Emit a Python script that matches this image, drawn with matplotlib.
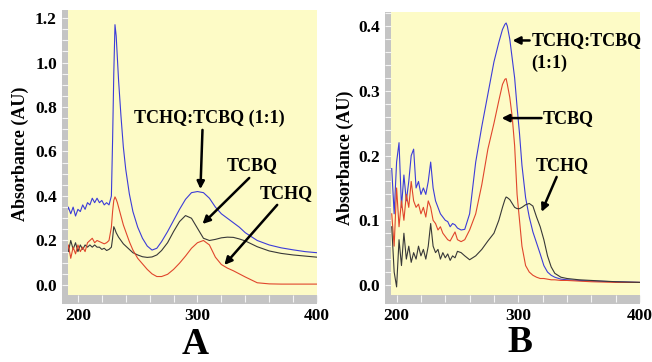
import matplotlib
matplotlib.use("Agg")
import matplotlib.pyplot as plt
from matplotlib.patches import Rectangle
from matplotlib.ticker import MultipleLocator

# ---------------- Panel A data ----------------
wl_a = [190, 192, 194, 196, 198, 200, 202, 204, 206, 208, 210, 212, 214, 216, 218,
        220, 222, 224, 226, 228, 229, 230, 231, 232, 233, 234, 236, 238, 240, 243,
        246, 250, 254, 258, 262, 266, 270, 275, 280, 285, 290, 295, 300, 305, 310,
        315, 320, 325, 330, 335, 340, 350, 360, 370, 380, 390, 400]
mix_a = [0.31, 0.35, 0.32, 0.35, 0.31, 0.34, 0.33, 0.36, 0.34, 0.37, 0.36, 0.39, 0.37, 0.39, 0.37,
         0.38, 0.36, 0.37, 0.36, 0.40, 0.65, 0.95, 1.17, 1.12, 1.02, 0.92, 0.76, 0.62, 0.52, 0.41,
         0.33, 0.26, 0.21, 0.175, 0.157, 0.165, 0.195, 0.24, 0.29, 0.34, 0.385, 0.415, 0.42, 0.415, 0.39,
         0.35, 0.32, 0.30, 0.28, 0.26, 0.235, 0.20, 0.18, 0.167, 0.158, 0.15, 0.145]
tcbq_a = [0.22, 0.15, 0.20, 0.16, 0.19, 0.15, 0.18, 0.16, 0.18, 0.17, 0.18, 0.17, 0.18, 0.17, 0.17,
          0.16, 0.165, 0.155, 0.16, 0.17, 0.21, 0.262, 0.25, 0.235, 0.225, 0.215, 0.20, 0.185, 0.175, 0.16,
          0.145, 0.135, 0.127, 0.124, 0.126, 0.135, 0.155, 0.19, 0.24, 0.285, 0.312, 0.30, 0.255, 0.21, 0.20,
          0.205, 0.212, 0.215, 0.214, 0.207, 0.198, 0.172, 0.153, 0.142, 0.135, 0.13, 0.125]
tchq_a = [0.13, 0.18, 0.12, 0.17, 0.14, 0.18, 0.15, 0.17, 0.15, 0.19, 0.20, 0.21, 0.19, 0.20, 0.195,
          0.19, 0.185, 0.19, 0.20, 0.26, 0.33, 0.38, 0.396, 0.385, 0.37, 0.35, 0.31, 0.27, 0.24, 0.195,
          0.157, 0.12, 0.095, 0.07, 0.05, 0.038, 0.038, 0.048, 0.07, 0.098, 0.13, 0.165, 0.19, 0.20, 0.18,
          0.125, 0.092, 0.076, 0.064, 0.05, 0.036, 0.01, 0.005, 0.004, 0.004, 0.004, 0.004]

# ---------------- Panel B data ----------------
wl_b = [196, 198, 200, 202, 204, 206, 208, 210, 212, 214, 216, 218, 220, 222, 224,
        226, 228, 230, 232, 234, 236, 238, 240, 242, 244, 246, 248, 250,
        253, 256, 260, 265, 270, 275, 280, 284, 287, 289, 290, 291, 293, 295, 297, 299,
        301, 303, 306, 309, 312, 315, 318, 321, 324, 327, 330, 335, 340, 350, 360, 380, 400]
mix_b = [0.18, 0.11, 0.19, 0.22, 0.12, 0.17, 0.13, 0.16, 0.20, 0.21, 0.15, 0.16, 0.14, 0.15, 0.14,
         0.16, 0.19, 0.15, 0.13, 0.12, 0.11, 0.105, 0.10, 0.098, 0.09, 0.095, 0.093, 0.088,
         0.085, 0.086, 0.11, 0.19, 0.245, 0.295, 0.345, 0.375, 0.395, 0.403, 0.405, 0.40, 0.38, 0.35, 0.32, 0.275,
         0.234, 0.185, 0.135, 0.105, 0.082, 0.065, 0.048, 0.03, 0.02, 0.015, 0.012, 0.009, 0.008, 0.007, 0.006, 0.005, 0.004]
tcbq_b = [0.11, 0.06, 0.15, 0.09, 0.13, 0.10, 0.14, 0.12, 0.16, 0.13, 0.12, 0.125, 0.11, 0.12, 0.105,
          0.13, 0.12, 0.10, 0.095, 0.085, 0.09, 0.08, 0.075, 0.07, 0.068, 0.075, 0.082, 0.07,
          0.067, 0.07, 0.085, 0.11, 0.155, 0.21, 0.25, 0.285, 0.31, 0.318, 0.319, 0.31, 0.29, 0.26, 0.215, 0.14,
          0.10, 0.06, 0.03, 0.02, 0.015, 0.012, 0.01, 0.01, 0.009, 0.008, 0.008, 0.007, 0.007, 0.006, 0.005, 0.004, 0.004]
tchq_b = [0.09, 0.02, -0.003, 0.07, 0.03, 0.08, 0.04, 0.06, 0.035, 0.05, 0.04, 0.06, 0.045, 0.055, 0.04,
          0.06, 0.095, 0.06, 0.05, 0.055, 0.04, 0.05, 0.042, 0.048, 0.038, 0.045, 0.042, 0.052,
          0.05, 0.045, 0.039, 0.045, 0.055, 0.068, 0.08, 0.10, 0.12, 0.132, 0.136, 0.135, 0.132, 0.126, 0.12, 0.118,
          0.118, 0.12, 0.124, 0.126, 0.122, 0.105, 0.09, 0.07, 0.045, 0.028, 0.018, 0.012, 0.01, 0.008, 0.007, 0.005, 0.004]

x_ticks = [200, 300, 400]
yticks_a = [0.0, 0.2, 0.4, 0.6, 0.8, 1.0, 1.2]
yticks_b = [0.0, 0.1, 0.2, 0.3, 0.4]
panel_letters = ["A", "B"]
ylabel_text = "Absorbance (AU)"

C_BLUE = "#3c3cd8"
C_RED = "#e0462c"
C_BLACK = "#383838"
BG = "#fdfbc6"
STRIP = "#c4c4c4"

W, H = 652, 362
fig = plt.figure(figsize=(W / 100, H / 100), dpi=100)
serif = "Liberation Serif"

def px_axes(x0, y0, x1, y1):
    return [x0 / W, 1 - y1 / H, (x1 - x0) / W, (y1 - y0) / H]

axA = fig.add_axes(px_axes(68, 10, 317, 295))
axB = fig.add_axes(px_axes(391, 12, 640, 295))

def style(ax, rect, yticks, yminor):
    ax.set_facecolor(BG)
    for s in ax.spines.values():
        s.set_visible(False)
    ax.set_xticks(x_ticks)
    ax.set_yticks(yticks)
    ax.xaxis.set_minor_locator(MultipleLocator(20))
    ax.yaxis.set_minor_locator(MultipleLocator(yminor))
    ax.tick_params(which="both", direction="out", color="#f4f4f4", width=0.8)
    ax.tick_params(axis="y", which="both", length=4, pad=4)
    ax.tick_params(axis="x", which="both", length=5, pad=4)
    for lab in ax.get_xticklabels() + ax.get_yticklabels():
        lab.set_fontfamily(serif)
        lab.set_fontweight("bold")
        lab.set_fontsize(12.5)
    x0, y0, x1, y1 = rect
    fig.add_artist(Rectangle(((x0 - 6) / W, 1 - (y1 + 9) / H), 6 / W, (y1 - y0 + 9) / H,
                             transform=fig.transFigure, facecolor=STRIP, edgecolor="none", zorder=-1))
    fig.add_artist(Rectangle(((x0 - 6) / W, 1 - (y1 + 9) / H), (x1 - x0 + 6) / W, 9 / H,
                             transform=fig.transFigure, facecolor=STRIP, edgecolor="none", zorder=-1))

# Panel A
axA.plot(wl_a, mix_a, color=C_BLUE, lw=0.8)
axA.plot(wl_a, tcbq_a, color=C_BLACK, lw=0.8)
axA.plot(wl_a, tchq_a, color=C_RED, lw=0.8)
axA.set_xlim(191.7, 400)
axA.set_ylim(-0.045, 1.236)
style(axA, (68, 10, 317, 295), yticks_a, 0.05)
axA.set_yticklabels([f"{v:.1f}" for v in yticks_a])

# Panel B
axB.plot(wl_b, mix_b, color=C_BLUE, lw=0.8)
axB.plot(wl_b, tcbq_b, color=C_RED, lw=0.8)
axB.plot(wl_b, tchq_b, color=C_BLACK, lw=0.8)
axB.set_xlim(195.4, 400)
axB.set_ylim(-0.0155, 0.422)
style(axB, (391, 12, 640, 295), yticks_b, 0.02)
axB.set_yticklabels([f"{v:.1f}" for v in yticks_b])

arrow = dict(arrowstyle="-|>", lw=1.8, color="black", mutation_scale=11, shrinkA=0, shrinkB=0)
tfont = dict(fontfamily=serif, fontweight="bold", fontsize=13)

# Annotations A
axA.text(310, 0.75, "TCHQ:TCBQ (1:1)", ha="center", va="center", **tfont)
axA.annotate("", xy=(302.5, 0.431), xytext=(304.2, 0.697), arrowprops=arrow)
axA.text(345.8, 0.535, "TCBQ", ha="center", va="center", **tfont)
axA.annotate("", xy=(304.2, 0.274), xytext=(343.3, 0.481), arrowprops=arrow)
axA.text(374.2, 0.413, "TCHQ", ha="center", va="center", **tfont)
axA.annotate("", xy=(322.5, 0.09), xytext=(366.7, 0.36), arrowprops=arrow)

# Annotations B
axB.text(310.9, 0.378, "TCHQ:TCBQ", ha="left", va="center", **tfont)
axB.text(310.9, 0.343, "(1:1)", ha="left", va="center", **tfont)
axB.annotate("", xy=(295.3, 0.378), xytext=(309.3, 0.378), arrowprops=arrow)
axB.text(320.0, 0.258, "TCBQ", ha="left", va="center", **tfont)
axB.annotate("", xy=(286.3, 0.258), xytext=(319.1, 0.258), arrowprops=arrow)
axB.text(336.4, 0.185, "TCHQ", ha="center", va="center", **tfont)
axB.annotate("", xy=(319.1, 0.113), xytext=(331.5, 0.167), arrowprops=arrow)

# Y labels
fig.text(20 / W, 1 - 153.5 / H, ylabel_text, rotation=90, ha="center", va="center", **tfont)
fig.text(345 / W, 1 - 157.5 / H, ylabel_text, rotation=90, ha="center", va="center", **tfont)

# Panel letters
fig.text(195 / W, 1 - 354 / H, panel_letters[0], ha="center", va="baseline",
         fontfamily=serif, fontweight="bold", fontsize=27)
fig.text(520 / W, 1 - 352 / H, panel_letters[1], ha="center", va="baseline",
         fontfamily=serif, fontweight="bold", fontsize=27)

fig.savefig("out.png", dpi=100, facecolor="white")
